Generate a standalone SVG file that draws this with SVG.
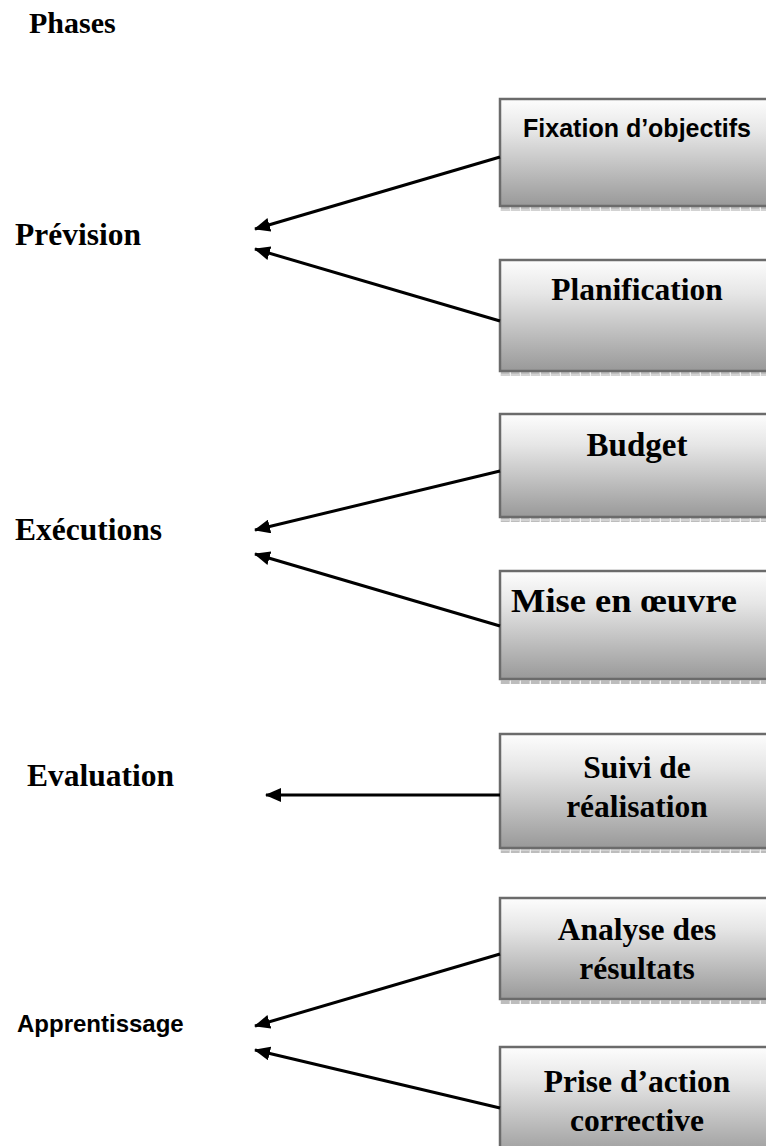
<svg xmlns="http://www.w3.org/2000/svg" width="766" height="1146" viewBox="0 0 766 1146">
  <style>
    .phase { font-family: "Liberation Serif", "Times New Roman", serif; font-weight: bold; font-size: 31.5px; fill: #000; }
    .phase-sans { font-family: "Liberation Sans", Arial, sans-serif; font-weight: bold; font-size: 24px; fill: #000; }
    .box { fill: url(#boxFill); stroke: #6b6b6b; stroke-width: 2.5; }
    .shade { fill: url(#hatch); }
    .lbl { font-family: "Liberation Serif", "Times New Roman", serif; font-weight: bold; font-size: 31.5px; fill: #000; text-anchor: middle; }
    .lbl-sans { font-family: "Liberation Sans", Arial, sans-serif; font-weight: bold; font-size: 25px; fill: #000; text-anchor: middle; }
    .conn { stroke: #000; stroke-width: 3; fill: none; marker-end: url(#head); }
  </style>
  <defs>
    <linearGradient id="boxFill" x1="0" y1="0" x2="0" y2="1">
      <stop offset="0" stop-color="#fdfdfd"/>
      <stop offset="0.3" stop-color="#e6e6e6"/>
      <stop offset="1" stop-color="#999999"/>
    </linearGradient>
    <pattern id="hatch" width="10" height="5" patternUnits="userSpaceOnUse">
      <rect width="10" height="5" fill="#d2d2d2"/>
      <rect x="0" y="0" width="1" height="5" fill="#f0f0f0"/>
      <rect x="1" y="1" width="8" height="3" fill="#bdbdbd"/>
    </pattern>
    <marker id="head" viewBox="0 0 16 14" refX="15" refY="7" markerWidth="16" markerHeight="14" markerUnits="userSpaceOnUse" orient="auto">
      <path d="M0,0 L16,7 L0,14 Z" fill="#000"/>
    </marker>
  </defs>

  <rect width="766" height="1146" fill="#fff"/>

  <!-- phase titles -->
  <text class="phase" x="29" y="33" style="font-size:30px">Phases</text>
  <g id="phase-prevision"><text class="phase" x="15" y="245">Prévision</text></g>
  <g id="phase-executions"><text class="phase" x="15" y="540">Exécutions</text></g>
  <g id="phase-evaluation"><text class="phase" x="27" y="786">Evaluation</text></g>
  <g id="phase-apprentissage"><text class="phase-sans" x="17" y="1032">Apprentissage</text></g>

  <!-- activity boxes -->
  <g id="box-fixation">
    <rect class="shade" x="500" y="206" width="270" height="5"/>
    <rect class="box" x="500" y="99" width="274" height="107"/>
    <text class="lbl-sans" x="637" y="137">Fixation d’objectifs</text>
  </g>
  <g id="box-planification">
    <rect class="shade" x="500" y="371" width="270" height="5"/>
    <rect class="box" x="500" y="260" width="274" height="111"/>
    <text class="lbl" x="637" y="300">Planification</text>
  </g>
  <g id="box-budget">
    <rect class="shade" x="500" y="517" width="270" height="5"/>
    <rect class="box" x="500" y="414" width="274" height="103"/>
    <text class="lbl" x="637" y="456" style="font-size:33px">Budget</text>
  </g>
  <g id="box-mise">
    <rect class="shade" x="500" y="679" width="270" height="5"/>
    <rect class="box" x="500" y="571" width="274" height="108"/>
    <text class="lbl" x="624" y="612" style="font-size:34px" textLength="226" lengthAdjust="spacingAndGlyphs">Mise en œuvre</text>
  </g>
  <g id="box-suivi">
    <rect class="shade" x="500" y="848" width="270" height="5"/>
    <rect class="box" x="500" y="734" width="274" height="114"/>
    <text class="lbl" x="637" y="778">Suivi de</text>
    <text class="lbl" x="637" y="817">réalisation</text>
  </g>
  <g id="box-analyse">
    <rect class="shade" x="500" y="999" width="270" height="5"/>
    <rect class="box" x="500" y="898" width="274" height="101"/>
    <text class="lbl" x="637" y="940">Analyse des</text>
    <text class="lbl" x="637" y="979">résultats</text>
  </g>
  <g id="box-prise">
    <rect class="box" x="500" y="1047" width="274" height="112"/>
    <text class="lbl" x="637" y="1092">Prise d’action</text>
    <text class="lbl" x="637" y="1131">corrective</text>
  </g>

  <!-- connectors -->
  <g id="connectors">
    <line class="conn" x1="500" y1="157" x2="255" y2="229"/>
    <line class="conn" x1="500" y1="321" x2="255" y2="249"/>
    <line class="conn" x1="500" y1="471" x2="255" y2="530"/>
    <line class="conn" x1="500" y1="626" x2="255" y2="554"/>
    <line class="conn" x1="500" y1="795" x2="266" y2="795"/>
    <line class="conn" x1="500" y1="954" x2="255" y2="1026"/>
    <line class="conn" x1="500" y1="1108" x2="255" y2="1050"/>
  </g>
</svg>
